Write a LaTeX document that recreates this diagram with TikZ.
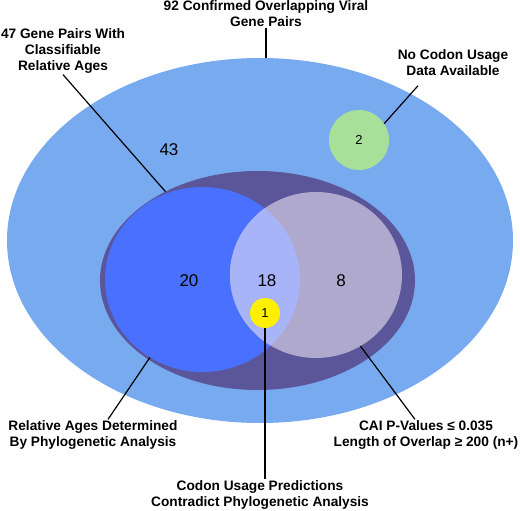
\documentclass[tikz,border=0pt]{standalone}
\usepackage{fontspec}
\setmainfont{Liberation Sans}
\usetikzlibrary{shapes.geometric}
\definecolor{outerblue}{RGB}{120,170,240}
\definecolor{darkpurple}{RGB}{91,85,153}
\definecolor{phyloblue}{RGB}{74,112,255}
\definecolor{caigrey}{RGB}{175,170,205}
\definecolor{overlapblue}{RGB}{168,180,248}
\definecolor{nodatagreen}{RGB}{168,224,154}
\definecolor{contrayellow}{RGB}{255,240,0}
\tikzset{%
    region/.style={ellipse,inner sep=0pt,outer sep=0pt,draw=none}
}

\begin{document}
\begin{tikzpicture}[
        x=1pt,y=-1pt,
        lbl/.style={font=\bfseries\fontsize{13.7}{16}\selectfont,align=center,inner sep=1pt},
        num/.style={font=\fontsize{17}{17}\selectfont},
        small/.style={font=\fontsize{13}{13}\selectfont},
        leader/.style={line width=1.2pt}
        ]
        \useasboundingbox (0,0) rectangle (520,511);

        % sets
        \node[region, fill=outerblue, minimum width=506pt, minimum height=365pt] (all) at (260,240.5){};
        \node[region, fill=darkpurple, minimum width=315pt, minimum height=219pt] (ages) at (257.5,280.5){};
        \node[region, fill=phyloblue, minimum width=195pt, minimum height=185pt] (phylo) at (202.5,279.5){};
        \node[region, fill=caigrey, minimum width=172pt, minimum height=166pt] (cai) at (316,275){};
        \begin{scope}
            \clip (202.5,279.5) ellipse [x radius=97.5, y radius=92.5];
            \fill[overlapblue] (316,275) ellipse [x radius=86, y radius=83];
        \end{scope}
        \node[circle, fill=nodatagreen, minimum size=60pt, inner sep=0pt, outer sep=0pt, small] (nodata) at (359,140){2};
        \node[circle, fill=contrayellow, minimum size=30pt, inner sep=0pt, outer sep=0pt, small] (contra) at (265,313){1};

        % counts
        \node[num] (n43) at (169,150){43};
        \node[num] (n20) at (189,281){20};
        \node[num] (n18) at (267,281){18};
        \node[num] (n8) at (341,281){8};

        % labels
        \node[lbl] (lball) at (266,14){92 Confirmed Overlapping Viral\\Gene Pairs};
        \node[lbl] (lblages) at (63,51){47 Gene Pairs With\\Classifiable\\Relative Ages};
        \node[lbl] (lblnodata) at (453,62.5){No Codon Usage\\Data Available};
        \node[lbl] (lblphylo) at (93,435){Relative Ages Determined\\By Phylogenetic Analysis};
        \node[lbl] (lblcai) at (426,435){CAI P-Values ≤ 0.035\\Length of Overlap ≥ 200 (n+)};
        \node[lbl] (lblcontra) at (260,495){Codon Usage Predictions\\Contradict Phylogenetic Analysis};

        \draw[leader] (lball.south) -- (lball.south |- all.north);
        \draw[leader] (lblages.south) -- (ages.136);
        \draw[leader] ([xshift=-35pt,yshift=-9pt]lblnodata.south) -- (nodata.33);
        \draw[leader] ([xshift=15pt]lblphylo.north) -- (phylo.236);
        \draw[leader] ([xshift=-11pt]lblcai.north) -- (cai.302);
        \draw[leader] (contra.south) -- (contra.south |- lblcontra.north);
    \end{tikzpicture}
\end{document}
